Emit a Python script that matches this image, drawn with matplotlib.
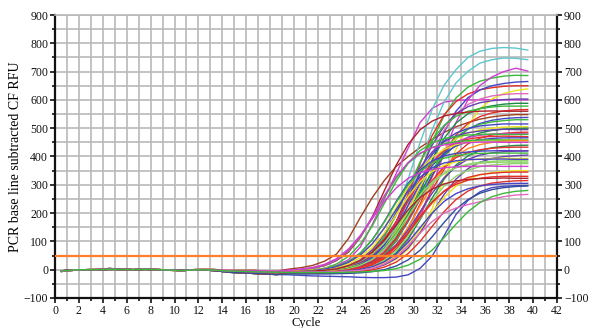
import numpy as np
import matplotlib
matplotlib.use("Agg")
import matplotlib.pyplot as plt
from matplotlib.ticker import MultipleLocator

# ---- data -------------------------------------------------------------
cycles = list(range(1, 41))                  # PCR cycles 1..40
threshold = 47                               # threshold line (RFU)

# shared early baselines, cycles 1..19
base_a = [-6, -2, 0, 1, 4, 2, 0, 3, 1, -2, -3, 0, 1, 0, -2, -3, -3, -4, -5]
base_b = [-5, -1, 0, 0, 2, 1, 0, 2, 0, -1, -3, -1, 0, -2, -5, -6, -7, -8, -9]
base_c = [-4, 0, 0, 0, 1, 1, 0, 1, 0, -1, -2, -1, -1, -4, -9, -11, -13, -15, -17]

# amplification values, cycles 20..40
brown_early = [2, 7, 15, 30, 55, 110, 185, 255, 315, 365, 400, 432, 460, 485, 505, 520, 532, 540, 545, 548, 548]
magenta_early = [-3, -2, 0, 5, 15, 35, 80, 160, 250, 340, 430, 520, 570, 592, 598, 600, 600, 601, 600, 600, 600]
blue_late = [-18, -20, -22, -23, -24, -25, -27, -28, -28, -26, -18, 5, 48, 120, 195, 245, 275, 290, 295, 297, 297]
cyan_a = [-5, -4, -3, 0, 5, 15, 32, 64, 119, 205, 321, 450, 566, 652, 707, 750, 772, 782, 785, 783, 776]
cyan_b = [-4, -4, -3, -1, 2, 9, 21, 44, 85, 153, 251, 373, 494, 592, 660, 701, 730, 742, 748, 747, 742]
green_686 = [-8, -7, -7, -5, -2, 5, 16, 37, 75, 138, 229, 341, 453, 544, 607, 645, 666, 677, 684, 687, 686]
red_650 = [-8, -7, -6, -3, 1, 9, 23, 50, 97, 170, 267, 377, 474, 547, 594, 621, 636, 643, 648, 650, 650]
blue_665 = [-6, -6, -5, -4, -1, 3, 11, 26, 53, 101, 175, 275, 386, 486, 560, 608, 635, 650, 658, 663, 665]
magenta_700 = [-10, -10, -10, -10, -8, -5, -1, 8, 24, 54, 105, 185, 292, 413, 520, 600, 651, 681, 700, 712, 702]
yellow_640 = [-5, -5, -5, -5, -4, -2, 1, 7, 17, 37, 72, 131, 215, 320, 425, 509, 568, 603, 623, 633, 639]
pink_622 = [-8, -8, -7, -5, -2, 3, 14, 33, 67, 124, 207, 309, 410, 493, 550, 584, 603, 614, 619, 622, 622]
purple_603 = [-10, -9, -8, -6, -2, 5, 19, 44, 88, 155, 246, 349, 440, 507, 551, 576, 590, 597, 601, 603, 603]
dkgreen_588 = [-12, -12, -11, -9, -7, -1, 8, 27, 60, 114, 192, 289, 386, 464, 518, 551, 570, 579, 585, 588, 588]
green_578 = [-5, -5, -3, -1, 5, 14, 32, 64, 116, 193, 287, 381, 458, 510, 542, 560, 569, 575, 578, 578, 578]
red_566 = [-8, -8, -8, -6, -4, 0, 6, 19, 43, 84, 147, 232, 328, 413, 476, 517, 541, 554, 561, 565, 566]
darkred_560 = [-2, 0, 5, 14, 32, 62, 114, 187, 279, 370, 443, 495, 525, 543, 552, 557, 560, 561, 560, 560, 560]
blue_540 = [-9, -9, -8, -6, -3, 2, 12, 30, 60, 106, 170, 250, 334, 408, 462, 497, 517, 528, 534, 537, 538]
green_530 = [-10, -10, -9, -7, -5, 0, 8, 25, 54, 103, 174, 261, 348, 419, 468, 497, 514, 522, 527, 530, 530]
blue_515 = [-7, -7, -5, -3, 1, 10, 26, 54, 102, 170, 255, 339, 407, 455, 483, 499, 508, 512, 515, 515, 515]
yellow_505 = [-5, -4, -3, -1, 2, 8, 19, 40, 76, 133, 208, 293, 369, 426, 462, 483, 494, 500, 504, 505, 505]
dkgreen_500 = [-10, -9, -8, -6, -2, 5, 18, 40, 76, 128, 196, 272, 345, 402, 442, 468, 483, 492, 497, 499, 500]
purple_495 = [-9, -8, -6, -3, 3, 14, 35, 71, 126, 201, 286, 361, 416, 452, 473, 484, 490, 494, 496, 495, 495]
red_486 = [-6, -6, -6, -5, -3, 0, 6, 17, 37, 73, 127, 200, 282, 355, 409, 445, 465, 476, 482, 485, 486]
magenta_480 = [-6, -5, -3, 0, 6, 16, 33, 62, 106, 168, 243, 318, 381, 425, 452, 467, 475, 479, 481, 481, 480]
green_478 = [-10, -8, -3, 5, 20, 47, 91, 155, 234, 313, 377, 421, 448, 463, 471, 476, 478, 479, 478, 478, 478]
red_470 = [-8, -7, -5, -2, 4, 14, 32, 62, 108, 170, 243, 317, 378, 421, 447, 461, 468, 471, 472, 471, 470]
blue_466 = [-13, -13, -12, -10, -5, 2, 17, 43, 87, 149, 227, 305, 367, 411, 437, 452, 459, 464, 466, 466, 466]
yellow_460 = [-6, -4, -1, 4, 12, 26, 50, 90, 148, 220, 292, 352, 397, 425, 442, 451, 456, 458, 459, 459, 459]
green_458 = [-3, 0, 5, 15, 34, 66, 115, 182, 256, 324, 376, 410, 432, 445, 452, 456, 458, 459, 458, 458, 458]
orange_456 = [-8, -8, -7, -6, -4, 0, 8, 22, 47, 89, 150, 225, 300, 361, 403, 428, 442, 450, 454, 456, 456]
magenta_450 = [-2, 1, 6, 16, 35, 68, 118, 186, 261, 329, 379, 412, 431, 441, 446, 449, 451, 451, 450, 450, 450]
dkgreen_440 = [-12, -12, -12, -11, -9, -6, -1, 9, 28, 60, 110, 177, 253, 320, 370, 402, 421, 431, 436, 439, 440]
red_433 = [-10, -9, -9, -7, -4, 1, 11, 29, 61, 110, 176, 249, 315, 364, 396, 414, 424, 429, 432, 433, 433]
blue_420 = [-9, -7, -4, 1, 10, 28, 59, 106, 170, 242, 306, 353, 384, 402, 411, 416, 419, 420, 421, 420, 420]
purple_420 = [-10, -10, -9, -7, -4, 1, 10, 25, 50, 88, 140, 205, 270, 325, 365, 390, 405, 413, 417, 419, 420]
green_412 = [-7, -5, -3, 3, 12, 29, 59, 106, 168, 238, 300, 347, 377, 394, 403, 409, 411, 412, 412, 412, 412]
purple_405 = [-10, -10, -10, -10, -8, -6, -2, 4, 17, 40, 77, 131, 199, 266, 320, 357, 380, 393, 400, 403, 405]
yellow_393 = [-5, -4, -2, 1, 8, 20, 42, 78, 130, 195, 259, 311, 347, 369, 381, 388, 391, 393, 394, 393, 393]
blue_390 = [-8, -6, -3, 2, 11, 26, 52, 92, 147, 213, 277, 327, 360, 377, 385, 389, 390, 391, 391, 390, 390]
ltgreen_385 = [-10, -9, -8, -6, -3, 3, 16, 37, 73, 125, 189, 252, 304, 340, 361, 373, 380, 383, 385, 385, 385]
ltgreen_380 = [-8, -7, -5, -2, 4, 14, 30, 56, 95, 148, 208, 265, 310, 341, 360, 370, 376, 379, 380, 380, 380]
green_375 = [-14, -14, -13, -12, -10, -7, -1, 11, 33, 68, 119, 182, 244, 295, 330, 352, 364, 370, 373, 375, 375]
magenta_365 = [-2, 2, 8, 19, 39, 73, 121, 181, 241, 289, 323, 343, 354, 360, 364, 365, 366, 366, 365, 365, 365]
yellow_350 = [-8, -8, -8, -7, -5, -3, 1, 9, 24, 49, 89, 142, 202, 255, 295, 320, 335, 343, 347, 350, 350]
red_345 = [-10, -10, -9, -8, -5, 0, 9, 24, 48, 84, 131, 185, 236, 278, 308, 326, 336, 341, 344, 345, 345]
red_330 = [-12, -11, -11, -10, -8, -3, 4, 18, 43, 81, 131, 189, 239, 277, 302, 316, 323, 328, 330, 330, 330]
brown_323 = [-7, -6, -5, -2, 3, 14, 32, 62, 105, 159, 212, 255, 285, 303, 314, 319, 322, 323, 324, 323, 323]
red_315 = [-12, -12, -12, -12, -10, -9, -6, -1, 9, 27, 57, 100, 153, 205, 248, 278, 296, 306, 311, 314, 315]
blue_305 = [-10, -10, -9, -8, -7, -4, 1, 11, 28, 56, 97, 149, 200, 241, 269, 286, 296, 301, 304, 305, 305]
navy_296 = [-15, -15, -15, -15, -14, -13, -11, -7, 0, 13, 35, 69, 116, 167, 214, 248, 270, 283, 290, 294, 296]
green_282 = [-10, -10, -10, -10, -10, -9, -8, -6, -3, 4, 16, 37, 69, 113, 161, 205, 237, 258, 270, 277, 280]
pink_268 = [-8, -8, -8, -8, -7, -5, -2, 5, 20, 45, 85, 130, 170, 200, 218, 230, 240, 250, 258, 264, 266]

CYAN, GREEN, RED, BLUE = "#5ec6cf", "#3cb83c", "#e3302a", "#4646c4"
MAG, YEL, PINK, PURP = "#d13fd1", "#ece31e", "#e06ac0", "#6a3fb0"
DKG, DKR, ORG, LTG, NAVY, BRN = "#1f8a45", "#b0202a", "#ff8a1e", "#8fd46a", "#334c9c", "#a0401e"

curves = [
    (blue_late, base_c, BLUE), (brown_early, base_a, BRN), (magenta_early, base_a, MAG),
    (cyan_a, base_a, CYAN), (cyan_b, base_a, CYAN), (green_686, base_b, GREEN),
    (red_650, base_b, RED), (blue_665, base_a, BLUE), (magenta_700, base_b, MAG),
    (yellow_640, base_a, YEL), (pink_622, base_b, PINK), (purple_603, base_b, PURP),
    (dkgreen_588, base_c, DKG), (green_578, base_a, GREEN), (red_566, base_b, RED),
    (darkred_560, base_a, DKR), (blue_540, base_b, BLUE), (green_530, base_b, GREEN),
    (blue_515, base_b, BLUE), (yellow_505, base_a, YEL), (dkgreen_500, base_b, DKG),
    (purple_495, base_b, PURP), (red_486, base_a, RED), (magenta_480, base_a, MAG),
    (green_478, base_c, GREEN), (red_470, base_b, RED), (blue_466, base_c, BLUE),
    (yellow_460, base_a, YEL), (green_458, base_a, GREEN), (orange_456, base_b, ORG),
    (magenta_450, base_a, MAG), (dkgreen_440, base_c, DKG), (red_433, base_b, RED),
    (blue_420, base_b, BLUE), (purple_420, base_b, PURP), (green_412, base_b, GREEN),
    (purple_405, base_b, PURP), (yellow_393, base_a, YEL), (blue_390, base_b, BLUE),
    (ltgreen_385, base_b, LTG), (ltgreen_380, base_b, LTG), (green_375, base_c, LTG),
    (magenta_365, base_a, MAG), (yellow_350, base_b, YEL), (red_345, base_b, RED),
    (red_330, base_c, RED), (brown_323, base_b, DKR), (red_315, base_c, RED),
    (blue_305, base_b, BLUE), (navy_296, base_c, NAVY), (pink_268, base_b, PINK),
    (green_282, base_b, GREEN),
]

# ---- figure -----------------------------------------------------------
plt.rcParams["font.family"] = ["Liberation Serif", "DejaVu Serif"]
fig = plt.figure(figsize=(5.89, 3.28), dpi=100)
ax = fig.add_axes([55 / 589, 1 - 298 / 328, (557 - 55) / 589, (298 - 15) / 328])

x = np.array(cycles) - 0.45
for vals, base, col in curves:
    ax.plot(x, base + vals, color=col, lw=1.0, solid_joinstyle="round", zorder=3)

ax.axhline(threshold, color="#ff7f27", lw=1.6, zorder=4)

ax.set_xlim(0, 42)
ax.set_ylim(-100, 900)
ax.xaxis.set_major_locator(MultipleLocator(2))
ax.xaxis.set_minor_locator(MultipleLocator(1))
ax.yaxis.set_major_locator(MultipleLocator(100))
ax.yaxis.set_minor_locator(MultipleLocator(50))
ax.grid(True, which="both", color="#b9b9b9", lw=1.2, zorder=0)
ax.set_axisbelow(True)

for s in ("left", "bottom", "right"):
    ax.spines[s].set_linewidth(1.6)
    ax.spines[s].set_color("#111111")
ax.spines["top"].set_color("#b9b9b9")
ax.spines["top"].set_linewidth(1.2)

ax.tick_params(which="both", direction="out", width=1.2, colors="#111111",
               left=True, right=True, bottom=True, top=False,
               labelleft=True, labelright=True, labelsize=8.5, pad=1.5)
ax.tick_params(which="major", length=3.5)
ax.tick_params(which="minor", length=2.5)

ax.set_xlabel("Cycle", fontsize=9, labelpad=0)
ax.set_ylabel("PCR base line subtracted CF RFU", fontsize=10, labelpad=1)

fig.savefig("out.png", dpi=100)
